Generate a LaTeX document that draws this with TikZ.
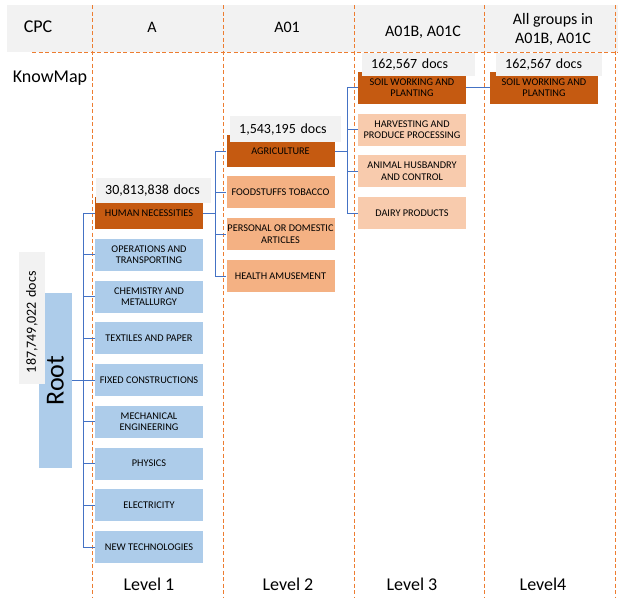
\documentclass[tikz,border=0pt]{standalone}
\usepackage{fontspec}
\setmainfont{Carlito}
\definecolor{darkorg}{HTML}{C55A11}
\definecolor{midorg}{HTML}{F4B183}
\definecolor{paleorg}{HTML}{F8CBAD}
\definecolor{paleblue}{HTML}{ADCCEA}
\definecolor{linkblue}{HTML}{4472C4}
\definecolor{gridorg}{HTML}{ED7D31}
\definecolor{labelgray}{HTML}{F2F2F2}
\begin{document}
\begin{tikzpicture}[x=1pt,y=-1pt]
\tikzstyle{cat}=[minimum width=108pt,minimum height=32pt,inner xsep=0pt,inner ysep=1pt,align=center,text=black,font=\fontsize{10.3}{11.5}\selectfont]
\tikzstyle{selbox}=[cat,fill=darkorg]
\tikzstyle{l1box}=[cat,fill=paleblue]
\tikzstyle{l2box}=[cat,fill=midorg]
\tikzstyle{l3box}=[cat,fill=paleorg]
\tikzstyle{docs}=[fill=labelgray,anchor=north west,inner xsep=9pt,inner ysep=0pt,minimum height=25pt,align=left,font=\fontsize{14}{16}\selectfont]
\tikzstyle{grid}=[gridorg,line width=1pt,dash pattern=on 4pt off 2.5pt]
\tikzstyle{tree}=[linkblue,line width=1pt]
\tikzstyle{head}=[font=\fontsize{16}{19}\selectfont,align=center]
\tikzstyle{side}=[font=\fontsize{18}{22}\selectfont]
\useasboundingbox (0,0) rectangle (618,597);

\fill[labelgray] (7,5) rectangle (618,52);
\draw[grid] (32,52) -- (618,52);
\foreach \x in {92,223,354,484,615} \draw[grid] (\x,5) -- (\x,597);

\path (38,27) node[side](cpc){CPC} (50,78) node[side](knowmap){KnowMap};
\path (152,27) node[head](hA){A} (287,27) node[head](hAo){A01}
      (423,32) node[head](hAbc){A01B, A01C} (553,29) node[head](hall){All groups in\\A01B, A01C};

\path (55.5,380.5) node[fill=paleblue,minimum width=175pt,minimum height=33pt,rotate=90,font=\fontsize{26}{30}\selectfont](root){Root};
\path (32,318) node[fill=labelgray,rotate=90,minimum width=132pt,minimum height=26pt,inner xsep=11pt,inner ysep=0pt,text width=110pt,align=left,font=\fontsize{14}{16}\selectfont](rootdocs){187,749,022 docs};

\path (149,213) node[selbox](hn){HUMAN NECESSITIES}
      (149,254.75) node[l1box](ops){OPERATIONS AND\\TRANSPORTING}
      (149,296.5) node[l1box](chem){CHEMISTRY AND\\METALLURGY}
      (149,338.25) node[l1box](tex){TEXTILES AND PAPER}
      (149,380) node[l1box](fixed){FIXED CONSTRUCTIONS}
      (149,421.75) node[l1box](mech){MECHANICAL\\ENGINEERING}
      (149,463.5) node[l1box](phys){PHYSICS}
      (149,505.25) node[l1box](elec){ELECTRICITY}
      (149,547) node[l1box](newtech){NEW TECHNOLOGIES};

\path (280.5,151) node[selbox](agr){AGRICULTURE}
      (280.5,192) node[l2box](food){FOODSTUFFS TOBACCO}
      (280.5,234) node[l2box](pers){PERSONAL OR DOMESTIC\\ARTICLES}
      (280.5,276) node[l2box](health){HEALTH AMUSEMENT};

\path (412,87.5) node[selbox](soil){SOIL WORKING AND\\PLANTING}
      (412,129.5) node[l3box](harv){HARVESTING AND\\PRODUCE PROCESSING}
      (412,171) node[l3box](animal){ANIMAL HUSBANDRY\\AND CONTROL}
      (412,213) node[l3box](dairy){DAIRY PRODUCTS};

\path (544,87.5) node[selbox](soilall){SOIL WORKING AND\\PLANTING};

\path (96,178) node[docs,text width=97pt](hndocs){30,813,838 docs}
      (230,116) node[docs,text width=93pt,minimum height=26pt](agrdocs){1,543,195 docs}
      (362,53) node[docs,text width=95pt,minimum height=23pt](soildocs){162,567 docs}
      (496,53) node[docs,text width=88pt,minimum height=23pt](alldocs){162,567 docs};

\coordinate (rootfork) at (83,380.5);
\coordinate (hnfork) at (215,213);
\coordinate (agrfork) at (347,151);
\draw[tree] (root.south) -- (rootfork);
\foreach \n in {hn,ops,chem,tex,fixed,mech,phys,elec,newtech} \draw[tree] (rootfork) |- (\n.west);
\draw[tree] (hn.east) -- (hnfork);
\foreach \n in {agr,food,pers,health} \draw[tree] (hnfork) |- (\n.west);
\draw[tree] (agr.east) -- (agrfork);
\foreach \n in {soil,harv,animal,dairy} \draw[tree] (agrfork) |- (\n.west);
\draw[tree] (soil.east) -- (soilall.west);

\path (149,584) node[side](lv1){Level 1} (288,584) node[side](lv2){Level 2}
      (412,584) node[side](lv3){Level 3} (543,584) node[side](lv4){Level4};
\end{tikzpicture}
\end{document}
